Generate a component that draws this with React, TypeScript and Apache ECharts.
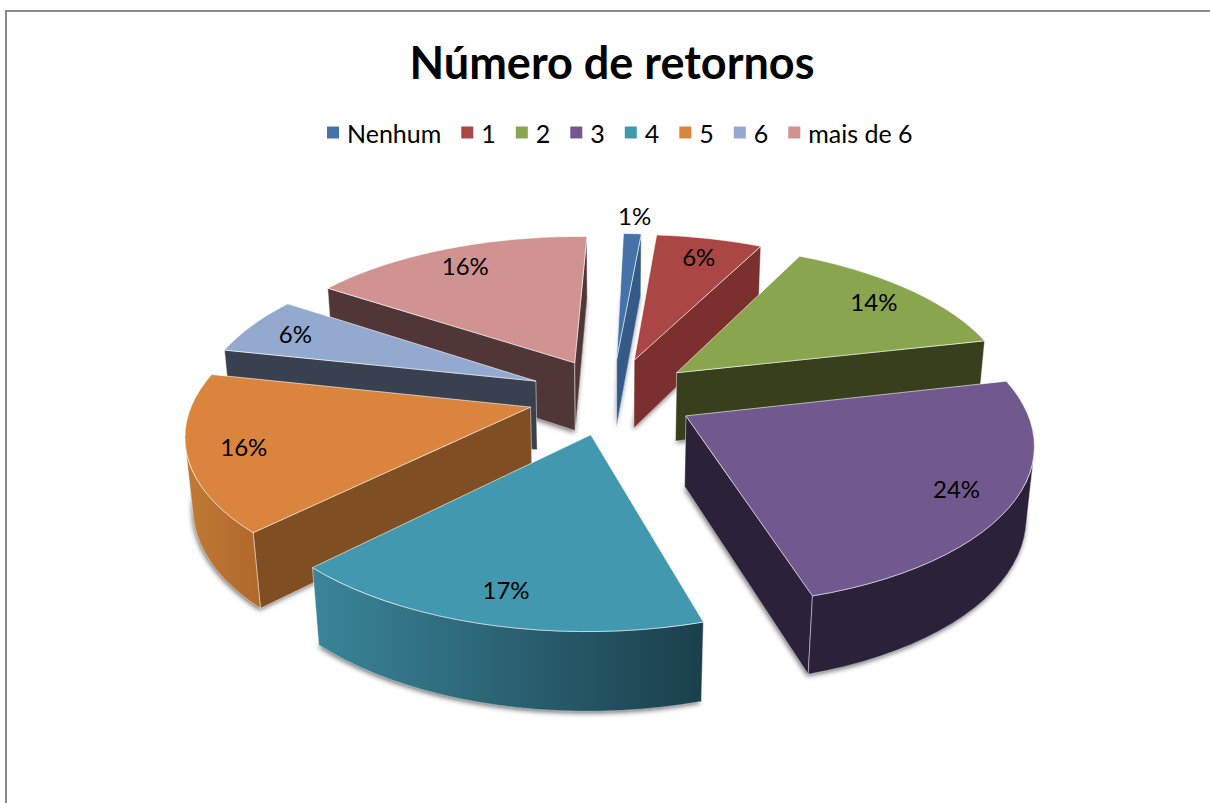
import React, { useEffect, useRef } from "react";
import * as echarts from "echarts";

const TITLE = "Número de retornos";
const sliceNames = ["Nenhum", "1", "2", "3", "4", "5", "6", "mais de 6"];
const sliceValues = [1, 6, 14, 24, 17, 16, 6, 16];

const topColors = ["#4572a7", "#aa4643", "#89a54e", "#71588f", "#4198af", "#db843d", "#93a9cf", "#d19392"];
const wallColors = ["#345a88", "#7b2f2e", "#373f1d", "#2b2138", "#2b2138", "#7f4f23", "#39404f", "#513638"];
const outerLeft = ["#345a88", "#7b2f2e", "#4f5f2c", "#2b2138", "#3a8599", "#c07a34", "#39404f", "#513638"];
const outerRight = ["#345a88", "#7b2f2e", "#373f1d", "#2b2138", "#1b3f4c", "#b0682c", "#39404f", "#513638"];

// camera and pie model, in units of the pie radius
const CX = 612, CY = 396, FOCAL = 1996, DIST = 5.94, ELEV = (27.35 * Math.PI) / 180;
const ROTATION = (1.5 * Math.PI) / 180;
const EXPLODE = 0.25, HEIGHT = 0.237;
const LABEL_R = 0.84, LABEL_R_OUT = 1.17;

const total = sliceValues.reduce((a, b) => a + b, 0);
const starts: number[] = [];
sliceValues.reduce((acc, v, i) => { starts[i] = acc; return acc + v; }, 0);

function project(x: number, v: number, y: number): [number, number] {
  const s = Math.sin(ELEV), c = Math.cos(ELEV);
  const yc = y * c + v * s;
  const z = DIST + v * c - y * s;
  return [CX + (FOCAL * x) / z, CY - (FOCAL * yc) / z];
}
function area(p: number[][]) {
  let t = 0;
  p.forEach((a, i) => { const b = p[(i + 1) % p.length]; t += a[0] * b[1] - b[0] * a[1]; });
  return t;
}

function makeRender(i: number) {
  return function renderItem(_params: any, api: any) {
    const value = api.value(0);
    const a0 = ROTATION + (starts[i] / total) * Math.PI * 2;
    const a1 = a0 + (value / total) * Math.PI * 2;
    const mid = (a0 + a1) / 2;
    const ox = EXPLODE * Math.sin(mid), ov = EXPLODE * Math.cos(mid);
    const pt = (a: number, r: number, y: number) => project(ox + r * Math.sin(a), ov + r * Math.cos(a), y);
    const steps = Math.max(4, Math.ceil(((a1 - a0) / (Math.PI * 2)) * 120));
    const angles: number[] = [];
    for (let k = 0; k <= steps; k++) angles.push(a0 + ((a1 - a0) * k) / steps);
    const top = angles.map((a) => pt(a, 1, 0));
    const bot = angles.map((a) => pt(a, 1, -HEIGHT));
    const apexT = project(ox, ov, 0), apexB = project(ox, ov, -HEIGHT);
    const edge = "rgba(255,255,255,0.6)";
    const children: any[] = [];

    children.push({
      type: "polygon",
      shape: { points: [apexB, ...bot] },
      style: { fill: wallColors[i], shadowBlur: 5, shadowColor: "rgba(0,0,0,0.55)", shadowOffsetX: -1, shadowOffsetY: 2 },
    });
    const wallStyle = { fill: wallColors[i], stroke: edge, lineWidth: 0.8 };
    const startWall = [apexT, top[0], bot[0], apexB];
    const endWall = [top[steps], apexT, apexB, bot[steps]];
    if (area(startWall) < 0) children.push({ type: "polygon", shape: { points: startWall }, style: wallStyle });
    if (area(endWall) < 0) children.push({ type: "polygon", shape: { points: endWall }, style: wallStyle });

    const frontT: number[][] = [], frontB: number[][] = [];
    for (let k = 0; k < steps; k++) {
      if (area([top[k], top[k + 1], bot[k + 1], bot[k]]) < 0) {
        if (!frontT.length) { frontT.push(top[k]); frontB.push(bot[k]); }
        frontT.push(top[k + 1]); frontB.push(bot[k + 1]);
      }
    }
    if (frontT.length) {
      children.push({
        type: "polygon",
        shape: { points: [...frontT, ...frontB.reverse()] },
        style: {
          fill: new echarts.graphic.LinearGradient(0, 0, 1, 0, [
            { offset: 0, color: outerLeft[i] },
            { offset: 1, color: outerRight[i] },
          ]),
          stroke: edge,
          lineWidth: 0.8,
        },
      });
    }
    children.push({
      type: "polygon",
      shape: { points: [apexT, ...top] },
      style: { fill: topColors[i], stroke: edge, lineWidth: 1 },
    });
    const small = value / total < 0.02;
    const [lx, ly] = pt(mid, small ? LABEL_R_OUT : LABEL_R, 0);
    children.push({
      type: "text",
      style: {
        text: `${Math.round((value / total) * 100)}%`,
        x: lx, y: ly, align: "center", verticalAlign: "middle",
        fill: "#000", font: "24px Lato",
      },
    });
    return { type: "group", children };
  };
}

export default function App() {
  const ref = useRef<HTMLDivElement>(null);
  useEffect(() => {
    const chart = echarts.init(ref.current!, undefined, { renderer: "svg" });
    const depth = sliceValues.map((_, i) => Math.cos(ROTATION + ((starts[i] + sliceValues[i] / 2) / total) * Math.PI * 2));
    const order = depth.map((d, i) => [d, i]).sort((a, b) => b[0] - a[0]).map((p) => p[1]);
    chart.setOption({
      animation: false,
      backgroundColor: "#ffffff",
      title: {
        text: TITLE, left: 607, top: 34, textAlign: "center",
        textStyle: { fontFamily: "Lato", fontWeight: "bold", fontSize: 45, color: "#000" },
      },
      legend: {
        data: sliceNames, left: 322, top: 115, icon: "rect", itemWidth: 12, itemHeight: 12, itemGap: 20,
        selectedMode: false,
        textStyle: { fontFamily: "Lato", fontSize: 25, color: "#000", padding: [0, 0, 0, 3] },
      },
      graphic: [
        { type: "rect", shape: { x: 5, y: 10, width: 2, height: 793 }, style: { fill: "#898989" } },
        { type: "rect", shape: { x: 5, y: 10, width: 1205, height: 2 }, style: { fill: "#898989" } },
      ],
      series: sliceNames.map((name, i) => ({
        type: "custom",
        name,
        coordinateSystem: "none",
        z: 2 + order.indexOf(i),
        itemStyle: { color: topColors[i] },
        data: [[sliceValues[i]]],
        encode: { value: 0 },
        renderItem: makeRender(i),
      })),
    });
    return () => chart.dispose();
  }, []);
  return <div ref={ref} style={{ position: "absolute", left: 0, top: 0, width: 1210, height: 803 }} />;
}
